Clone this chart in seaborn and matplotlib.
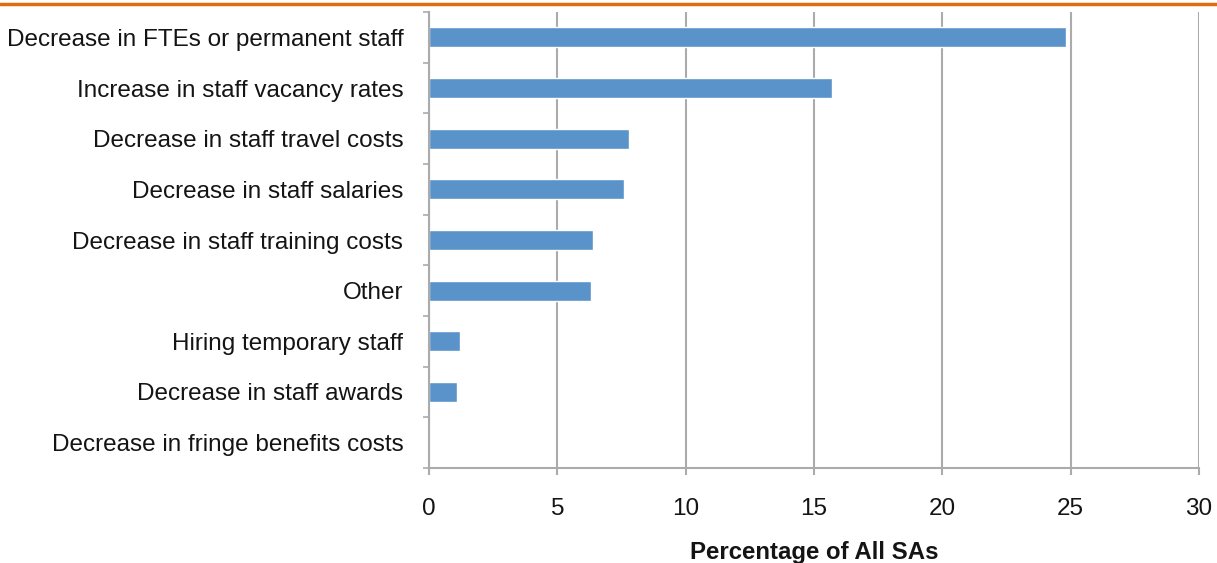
import matplotlib
matplotlib.use("Agg")
import matplotlib.pyplot as plt
from matplotlib.lines import Line2D
from matplotlib.ticker import FixedLocator
import seaborn as sns
import pandas as pd

categories = [
    "Decrease in FTEs or permanent staff",
    "Increase in staff vacancy rates",
    "Decrease in staff travel costs",
    "Decrease in staff salaries",
    "Decrease in staff training costs",
    "Other",
    "Hiring temporary staff",
    "Decrease in staff awards",
    "Decrease in fringe benefits costs",
]
percentages = [24.8, 15.7, 7.8, 7.6, 6.4, 6.3, 1.2, 1.1, 0.0]
x_ticks = [0, 5, 10, 15, 20, 25, 30]
x_label = "Percentage of All SAs"

df = pd.DataFrame({"category": categories, "pct": percentages})

sns.set_theme(style="white")
plt.rcParams["font.family"] = ["Liberation Sans", "DejaVu Sans"]

fig = plt.figure(figsize=(12.17, 5.63), dpi=100)
ax = fig.add_axes([429 / 1217, 1 - 468 / 563, (1199 - 429) / 1217, (468 - 12) / 563])

sns.barplot(data=df, x="pct", y="category", orient="h", color="#5A92CA",
            width=0.4, saturation=1, ax=ax)

grid_c = "#ababab"
text_c = "#141414"
ax.set_xlim(0, 30)
ax.set_ylim(len(categories) - 0.5, -0.5)
ax.set_xticks(x_ticks)
ax.set_xticklabels([str(t) for t in x_ticks], fontsize=17.5, color=text_c)
ax.xaxis.grid(True, color=grid_c, linewidth=1.5)
ax.yaxis.grid(False)
ax.set_axisbelow(True)

ax.set_yticks(range(len(categories)))
ax.set_yticklabels(categories, fontsize=17.5, color=text_c)
ax.yaxis.set_minor_locator(FixedLocator([i - 0.5 for i in range(len(categories) + 1)]))
ax.tick_params(axis="y", which="major", length=0, pad=18.5)
ax.tick_params(axis="y", which="minor", length=4.5, width=1.2, color=grid_c, left=True)
ax.tick_params(axis="x", which="major", length=5, width=1.5, color=grid_c, bottom=True, pad=16.5)

for side in ["top", "right"]:
    ax.spines[side].set_visible(False)
for side in ["left", "bottom"]:
    ax.spines[side].set_color(grid_c)
    ax.spines[side].set_linewidth(1.5)

ax.set_ylabel("")
ax.set_xlabel(x_label, fontsize=17.3, fontweight="bold", color=text_c, labelpad=15.5)

fig.add_artist(Line2D([0, 1], [1 - 4 / 563, 1 - 4 / 563], color="#E26B10",
                      linewidth=2.5, transform=fig.transFigure))

fig.savefig("out.png", dpi=100, facecolor="white")
